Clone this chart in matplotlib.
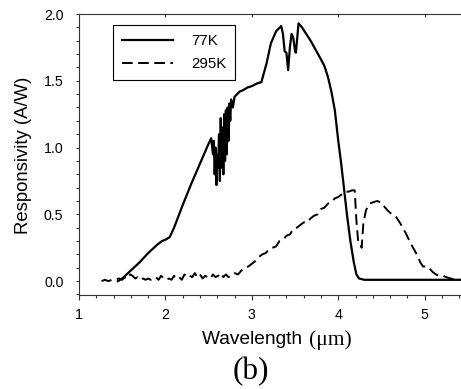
import matplotlib
matplotlib.use("Agg")

import matplotlib.pyplot as plt
from matplotlib.ticker import MultipleLocator

# 77K responsivity (solid)
wl_77k = [1.45, 1.50, 1.60, 1.70, 1.80, 1.90, 1.96, 2.00, 2.05, 2.10, 2.20, 2.30, 2.40,
          2.50, 2.53, 2.55, 2.56, 2.57, 2.58, 2.59, 2.60, 2.61, 2.62, 2.63, 2.64, 2.65,
          2.66, 2.67, 2.68, 2.69, 2.70, 2.71, 2.72, 2.73, 2.74, 2.75, 2.76, 2.78, 2.80,
          2.83, 2.86, 2.90, 2.95, 3.00, 3.06, 3.11, 3.17, 3.22, 3.28, 3.34, 3.36, 3.38,
          3.40, 3.42, 3.44, 3.46, 3.48, 3.50, 3.51, 3.54, 3.58, 3.62, 3.68, 3.74, 3.80,
          3.84, 3.88, 3.92, 3.96, 4.00, 4.03, 4.06, 4.10, 4.14, 4.18, 4.21, 4.24, 4.30,
          4.60, 5.00, 5.42]
resp_77k = [0.00, 0.02, 0.08, 0.14, 0.21, 0.27, 0.30, 0.31, 0.33, 0.40, 0.57, 0.73, 0.88,
            1.03, 1.07, 0.95, 1.05, 0.80, 1.00, 0.72, 0.95, 0.85, 1.10, 0.75, 1.22, 0.85,
            1.15, 0.80, 1.25, 0.90, 1.28, 0.95, 1.30, 1.05, 1.33, 1.20, 1.36, 1.30, 1.38,
            1.40, 1.42, 1.43, 1.45, 1.46, 1.48, 1.49, 1.63, 1.78, 1.87, 1.91, 1.85, 1.72,
            1.71, 1.58, 1.75, 1.85, 1.82, 1.72, 1.71, 1.93, 1.90, 1.86, 1.80, 1.73, 1.66,
            1.61, 1.53, 1.42, 1.28, 1.05, 0.90, 0.73, 0.50, 0.30, 0.14, 0.05, 0.02, 0.01,
            0.01, 0.01, 0.01]

# 295K responsivity (dashed)
wl_295k = [1.26, 1.30, 1.34, 1.38, 1.42, 1.46, 1.50, 1.53, 1.56, 1.59, 1.62, 1.65, 1.68,
           1.71, 1.74, 1.77, 1.80, 1.83, 1.86, 1.89, 1.92, 1.95, 1.98, 2.01, 2.04, 2.07,
           2.10, 2.13, 2.16, 2.19, 2.22, 2.25, 2.28, 2.31, 2.34, 2.37, 2.40, 2.43, 2.46,
           2.49, 2.52, 2.55, 2.58, 2.61, 2.64, 2.67, 2.70, 2.73, 2.76, 2.80, 2.84, 2.88,
           2.92, 2.96, 3.00, 3.04, 3.08, 3.12, 3.16, 3.20, 3.24, 3.28, 3.32, 3.36, 3.40,
           3.44, 3.48, 3.52, 3.56, 3.60, 3.64, 3.68, 3.72, 3.76, 3.80, 3.84, 3.88, 3.92,
           3.96, 4.00, 4.04, 4.08, 4.12, 4.16, 4.19, 4.21, 4.23, 4.25, 4.27, 4.29, 4.32,
           4.36, 4.40, 4.45, 4.49, 4.53, 4.57, 4.62, 4.67, 4.72, 4.78, 4.84, 4.90, 4.95,
           4.98, 5.02, 5.05, 5.09, 5.13, 5.17, 5.21, 5.25, 5.30, 5.35, 5.42]
resp_295k = [0.00, 0.01, 0.00, 0.01, 0.01, 0.02, 0.01, 0.03, 0.02, 0.05, 0.04, 0.02, 0.03,
             0.01, 0.02, 0.01, 0.02, 0.01, 0.02, 0.03, 0.01, 0.04, 0.02, 0.01, 0.02, 0.01,
             0.04, 0.02, 0.03, 0.01, 0.05, 0.03, 0.04, 0.03, 0.06, 0.03, 0.05, 0.02, 0.04,
             0.03, 0.02, 0.05, 0.03, 0.04, 0.06, 0.03, 0.05, 0.03, 0.04, 0.06, 0.05, 0.08,
             0.10, 0.11, 0.13, 0.15, 0.18, 0.20, 0.21, 0.24, 0.25, 0.26, 0.30, 0.31, 0.34,
             0.35, 0.39, 0.40, 0.42, 0.44, 0.44, 0.47, 0.49, 0.50, 0.54, 0.55, 0.58, 0.59,
             0.62, 0.63, 0.65, 0.67, 0.67, 0.68, 0.68, 0.45, 0.30, 0.29, 0.25, 0.43, 0.53,
             0.58, 0.59, 0.60, 0.59, 0.56, 0.53, 0.50, 0.48, 0.43, 0.36, 0.28, 0.21, 0.14,
             0.11, 0.11, 0.10, 0.07, 0.05, 0.04, 0.04, 0.03, 0.02, 0.01, 0.01]

labels = ["77K", "295K"]
x_ticks = [1, 2, 3, 4, 5]
y_ticks = [0.0, 0.5, 1.0, 1.5, 2.0]

W, H = 461, 389
fig = plt.figure(figsize=(W / 100, H / 100), dpi=100)
ax = fig.add_axes([79 / W, 1 - 294.5 / H, 1 - 79 / W, (294.5 - 14) / H])

ax.plot(wl_77k, resp_77k, color="black", lw=1.6, label=labels[0])
ax.plot(wl_295k, resp_295k, color="black", lw=1.4, linestyle=(0, (5.5, 2.8)), label=labels[1])

ax.set_xlim(1, 5.42)
ax.set_ylim(-0.1, 2.0)
ax.set_xticks(x_ticks)
ax.set_yticks(y_ticks)
ax.set_yticklabels([f"{v:.1f}" for v in y_ticks])
ax.xaxis.set_minor_locator(MultipleLocator(0.2))
ax.yaxis.set_minor_locator(MultipleLocator(0.1))

for s in ax.spines.values():
    s.set_linewidth(0.8)
    s.set_color("#333333")
ax.spines["right"].set_visible(False)

ax.tick_params(axis="x", which="major", direction="out", length=3.4, width=0.8,
               labelsize=10.2, pad=6, colors="#333333", labelcolor="black")
ax.tick_params(axis="x", which="minor", direction="out", length=2.2, width=0.8, colors="#333333")
ax.tick_params(axis="y", which="both", direction="out", length=2.2, width=0.8,
               labelsize=10.2, pad=9, colors="#333333", labelcolor="black")
for lab in ax.get_xticklabels() + ax.get_yticklabels():
    lab.set_family("Liberation Sans")

# top spine: major ticks pointing inward
top = ax.secondary_xaxis("top")
top.set_xticks([2, 3, 4, 5])
top.tick_params(direction="in", length=2.5, width=0.8, labeltop=False, colors="#333333")
top.spines["top"].set_visible(False)

leg = ax.legend(loc="upper left", bbox_to_anchor=(113 / W, 1 - 25 / H),
                bbox_transform=fig.transFigure, borderaxespad=0, fancybox=False,
                edgecolor="black", framealpha=1, handlelength=3.4, handletextpad=1.2,
                labelspacing=0.6, borderpad=0.6, prop={"family": "Liberation Sans", "size": 10.8})
leg.get_frame().set_linewidth(0.8)

fig.text(23 / W, 1 - 155 / H, "Responsivity (A/W)", rotation=90, ha="center", va="center",
         family="Liberation Sans", fontsize=13.3)
fig.text(307 / W, 1 - 340 / H, "Wavelength ", ha="right", va="center",
         family="Liberation Sans", fontsize=13.8)
fig.text(309 / W, 1 - 340 / H, "(\u03bcm)", ha="left", va="center",
         family="Liberation Serif", fontsize=15.5)
fig.text(251 / W, 1 - 372 / H, "(b)", ha="center", va="center",
         family="Liberation Serif", fontsize=22.5)

fig.savefig("out.png", dpi=100)
plt.close(fig)
